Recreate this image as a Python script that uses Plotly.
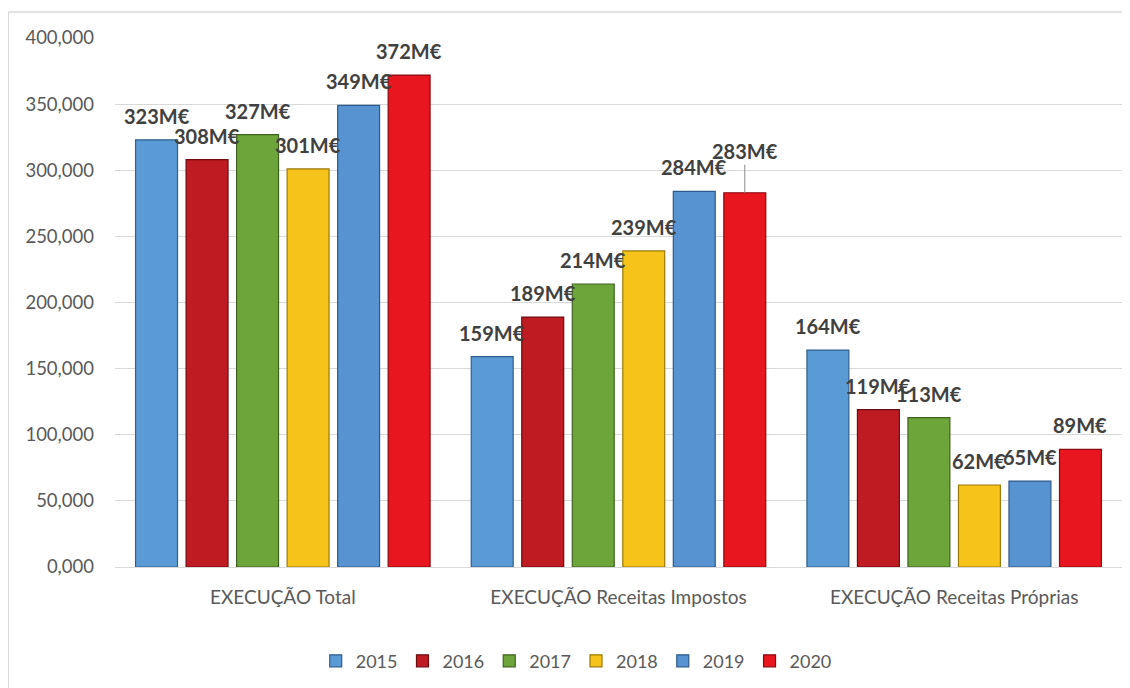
import plotly.graph_objects as go

categories = ["EXECUÇÃO Total", "EXECUÇÃO Receitas Impostos", "EXECUÇÃO Receitas Próprias"]
years = ["2015", "2016", "2017", "2018", "2019", "2020"]
values = {
    "2015": [323, 159, 164],
    "2016": [308, 189, 119],
    "2017": [327, 214, 113],
    "2018": [301, 239, 62],
    "2019": [349, 284, 65],
    "2020": [372, 283, 89],
}
colors = {
    "2015": "#5B9BD5",
    "2016": "#BE1B22",
    "2017": "#6DA53A",
    "2018": "#F5C31A",
    "2019": "#5693D0",
    "2020": "#E8161F",
}
edge = {
    "2015": "#2F5F8E",
    "2016": "#6E0C10",
    "2017": "#3E6320",
    "2018": "#9C7A08",
    "2019": "#2C5B8A",
    "2020": "#8A0A0F",
}
y_ticks = [0, 50, 100, 150, 200, 250, 300, 350, 400]

BARGAP = 0.097
FONT = "Lato"
LABEL_FONT = dict(family=FONT, size=20, color="#404040", weight="bold")

fig = go.Figure()
for y in years:
    fig.add_trace(go.Bar(
        name=y, x=categories, y=values[y],
        marker=dict(color=colors[y], line=dict(color=edge[y], width=1.2)),
        cliponaxis=False,
    ))

slot = (1 - BARGAP) / len(years)
for ti, y in enumerate(years):
    offset = -(1 - BARGAP) / 2 + (ti + 0.5) * slot
    for ci, v in enumerate(values[y]):
        if y == "2020" and ci == 1:
            fig.add_annotation(
                x=ci + offset, y=v, xref="x", yref="y",
                text=f"{v}M€", showarrow=True, arrowhead=0,
                arrowwidth=1, arrowcolor="#8c8c8c", ax=0, ay=-28, standoff=0,
                font=LABEL_FONT, yanchor="bottom",
            )
        else:
            fig.add_annotation(
                x=ci + offset, y=v, xref="x", yref="y",
                text=f"{v}M€", showarrow=False, yanchor="bottom", yshift=10,
                font=LABEL_FONT,
            )

# chart border (left and top)
fig.add_shape(type="line", xref="paper", yref="paper", x0=-0.106, x1=-0.106, y0=-0.25, y1=1.049,
              line=dict(color="#d9d9d9", width=1.5))
fig.add_shape(type="line", xref="paper", yref="paper", x0=-0.106, x1=1.01, y0=1.049, y1=1.049,
              line=dict(color="#d9d9d9", width=1.5))

fig.update_layout(
    width=1122, height=680,
    margin=dict(l=107, r=8, t=30, b=121),
    paper_bgcolor="white", plot_bgcolor="white",
    barmode="group", bargap=BARGAP, bargroupgap=0.17,
    separators=",.",
    font=dict(family=FONT, color="#595959"),
    showlegend=True,
    legend=dict(orientation="h", x=0.458, xanchor="center", y=-0.178, yanchor="middle",
                font=dict(family=FONT, size=18, color="#595959"),
                itemwidth=30, traceorder="normal"),
    xaxis=dict(tickfont=dict(family=FONT, size=19, color="#595959"), showline=False,
               ticks="", showgrid=False, ticklabelstandoff=17),
    yaxis=dict(range=[0, 400], tickvals=y_ticks, tickformat=".3f",
               tickfont=dict(family=FONT, size=18.5, color="#595959"),
               showgrid=True, gridcolor="#d9d9d9", gridwidth=1.3,
               zeroline=True, zerolinecolor="#d9d9d9", zerolinewidth=1.3,
               ticks="", ticklen=0, showline=False, ticklabelstandoff=20),
)

fig.write_html("out.html")
